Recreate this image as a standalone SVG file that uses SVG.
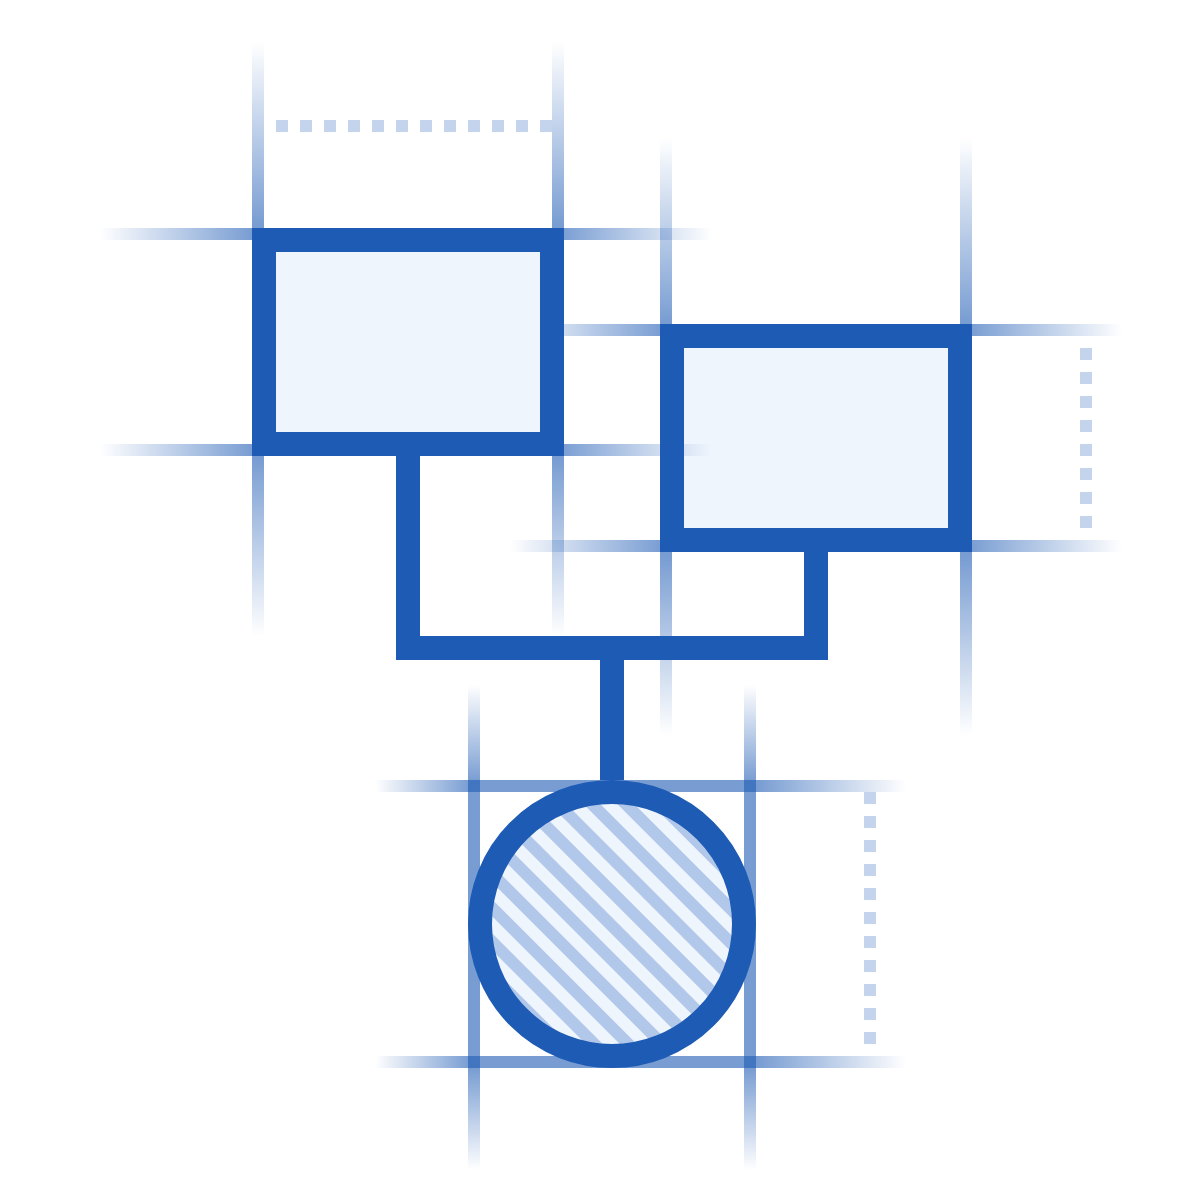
<svg xmlns="http://www.w3.org/2000/svg" width="1200" height="1200" viewBox="0 0 1200 1200">
  <style>
    .shape { fill: #eff5fd; stroke: #1e5bb4; stroke-width: 24; }
    .conn { fill: none; stroke: #1e5bb4; stroke-width: 24; stroke-linejoin: miter; stroke-linecap: butt; }
    .dots { fill: none; stroke: #c3d4ec; stroke-width: 12; stroke-dasharray: 12 12; }
    .gv { fill: url(#gv); }
    .gh { fill: url(#gh); }
    .gcv { fill: url(#gcv); }
    .gch { fill: url(#gch); }
  </style>
  <defs>
    <linearGradient id="gv" x1="0" y1="0" x2="0" y2="1">
      <stop offset="0" stop-color="#1e5bb4" stop-opacity="0"/>
      <stop offset="0.31" stop-color="#1e5bb4" stop-opacity="0.6"/>
      <stop offset="0.7" stop-color="#1e5bb4" stop-opacity="0.6"/>
      <stop offset="1" stop-color="#1e5bb4" stop-opacity="0"/>
    </linearGradient>
    <linearGradient id="gh" x1="0" y1="0" x2="1" y2="0">
      <stop offset="0" stop-color="#1e5bb4" stop-opacity="0"/>
      <stop offset="0.25" stop-color="#1e5bb4" stop-opacity="0.6"/>
      <stop offset="0.75" stop-color="#1e5bb4" stop-opacity="0.6"/>
      <stop offset="1" stop-color="#1e5bb4" stop-opacity="0"/>
    </linearGradient>
    <linearGradient id="gcv" x1="0" y1="0" x2="0" y2="1">
      <stop offset="0" stop-color="#1e5bb4" stop-opacity="0"/>
      <stop offset="0.2" stop-color="#1e5bb4" stop-opacity="0.6"/>
      <stop offset="0.79" stop-color="#1e5bb4" stop-opacity="0.6"/>
      <stop offset="1" stop-color="#1e5bb4" stop-opacity="0"/>
    </linearGradient>
    <linearGradient id="gch" x1="0" y1="0" x2="1" y2="0">
      <stop offset="0" stop-color="#1e5bb4" stop-opacity="0"/>
      <stop offset="0.18" stop-color="#1e5bb4" stop-opacity="0.6"/>
      <stop offset="0.72" stop-color="#1e5bb4" stop-opacity="0.6"/>
      <stop offset="1" stop-color="#1e5bb4" stop-opacity="0"/>
    </linearGradient>
    <pattern id="hatch" patternUnits="userSpaceOnUse" width="24" height="24" patternTransform="rotate(45)">
      <rect x="0" y="0" width="24" height="24" fill="#eff5fd"/>
      <rect x="0" y="0" width="24" height="12" fill="#b2c8ea"/>
    </pattern>
  </defs>

  <g id="node-box2">
    <rect class="gv" x="660" y="138" width="12" height="597"/>
    <rect class="gv" x="960" y="138" width="12" height="597"/>
    <rect class="gh" x="510" y="324" width="612" height="12"/>
    <rect class="gh" x="510" y="540" width="612" height="12"/>
    <line class="dots" x1="1086" y1="348" x2="1086" y2="534"/>
    <rect class="shape" x="672" y="336" width="288" height="204"/>
  </g>

  <g id="node-box1">
    <rect class="gv" x="252" y="42" width="12" height="594"/>
    <rect class="gv" x="552" y="42" width="12" height="594"/>
    <rect class="gh" x="100" y="228" width="612" height="12"/>
    <rect class="gh" x="100" y="444" width="612" height="12"/>
    <line class="dots" x1="276" y1="126" x2="558" y2="126"/>
    <rect class="shape" x="264" y="240" width="288" height="204"/>
  </g>

  <g id="node-circle">
    <rect class="gcv" x="468" y="685" width="12" height="485"/>
    <rect class="gcv" x="744" y="685" width="12" height="485"/>
    <rect class="gch" x="375" y="780" width="531" height="12"/>
    <rect class="gch" x="375" y="1056" width="531" height="12"/>
    <line class="dots" x1="870" y1="792" x2="870" y2="1050"/>
    <circle cx="612" cy="924" r="132" fill="url(#hatch)" stroke="#1e5bb4" stroke-width="24"/>
  </g>

  <g id="connectors">
    <path class="conn" d="M408 456 V648 H816 V552"/>
    <path class="conn" d="M612 660 V780"/>
  </g>
</svg>
